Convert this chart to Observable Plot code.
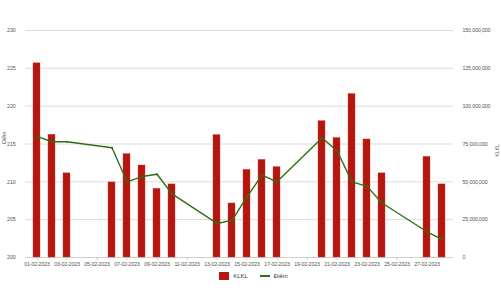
<!DOCTYPE html>
<html>
<head>
<meta charset="utf-8">
<script src="https://cdn.jsdelivr.net/npm/d3@7"></script>
<script src="https://cdn.jsdelivr.net/npm/@observablehq/plot@0.6"></script>
<style>
  html, body { margin: 0; padding: 0; background: #fff; }
  body { width: 501px; height: 300px; overflow: hidden; font-family: "Liberation Sans", sans-serif; }
  #legend { display: flex; justify-content: center; align-items: center; gap: 12px; font-size: 6px; color: #333; height: 12px; margin-left: 6px; }
  .item { display: flex; align-items: center; gap: 4px; }
  .sw { width: 10px; height: 8px; background: #b5160f; }
  .ln { width: 10px; height: 1.5px; background: #2f6f14; position: relative; }
</style>
</head>
<body>
<div id="chart"></div>
<div id="legend">
  <div class="item"><span class="sw"></span><span>KLKL</span></div>
  <div class="item"><span class="ln"></span><span>Điểm</span></div>
</div>
<script>
const allDays = d3.range(1, 29).map(d => String(d).padStart(2, "0") + "-02-2023");
const tickDays = allDays.filter((d, i) => i % 2 === 0);
const tradeDays = ["01","02","03","06","07","08","09","10","13","14","15","16","17","20","21","22","23","24","27","28"].map(d => d + "-02-2023");
const klkl = [128.3, 81.1, 55.6, 49.6, 68.3, 60.8, 45.4, 48.3, 80.9, 35.7, 57.9, 64.5, 59.7, 90.1, 78.9, 108.0, 78.0, 55.6, 66.5, 48.3].map(v => v * 1e6);
const diem = [216.0, 215.3, 215.3, 214.5, 210.0, 210.7, 211.0, 208.4, 204.5, 204.9, 208.0, 210.9, 210.0, 215.8, 214.1, 210.0, 209.4, 207.2, 203.4, 202.4];
const leftTicks = [200, 205, 210, 215, 220, 225, 230];

const yMin = 200, yMax = 230, volMax = 150e6;
const volToY = v => yMin + v / volMax * (yMax - yMin);
const yToVol = y => (y - yMin) / (yMax - yMin) * volMax;

const data = tradeDays.map((d, i) => ({date: d, vol: klkl[i], diem: diem[i], volY: volToY(klkl[i])}));

const chart = Plot.plot({
  width: 501,
  height: 270,
  marginLeft: 25,
  marginRight: 48,
  marginTop: 30,
  marginBottom: 13,
  style: {fontFamily: "'Liberation Sans', sans-serif", fontSize: "5.3px", letterSpacing: "-0.15px", color: "#555", background: "#fff"},
  x: {type: "band", domain: allDays, paddingInner: 0.53, paddingOuter: 0.53},
  y: {domain: [yMin, yMax]},
  marks: [
    Plot.gridY(leftTicks, {stroke: "#dcdcdc", strokeOpacity: 1}),
    Plot.ruleY([yMin], {stroke: "#cfcfcf"}),
    Plot.barY(data, {x: "date", y1: yMin, y2: "volY", fill: "#b5160f", stroke: "#c9443b", strokeWidth: 0.4}),
    Plot.line(data, {x: "date", y: "diem", stroke: "#2f6f14", strokeWidth: 1.4}),
    Plot.dot(data, {x: "date", y: "diem", r: 1.1, fill: "#2f6f14"}),
    Plot.axisX({ticks: tickDays, tickSize: 3, tickPadding: 2, stroke: "#cfcfcf", fill: "#555", label: null}),
    Plot.axisY({ticks: leftTicks, anchor: "left", tickSize: 0, tickPadding: 10, fill: "#555", label: null}),
    Plot.axisY({ticks: leftTicks, anchor: "right", tickSize: 0, tickPadding: 9, fill: "#555", label: null, tickFormat: d => d3.format(",")(yToVol(d))}),
    Plot.text(["Điểm"], {frameAnchor: "left", dx: -21.5, rotate: -90, fill: "#666", fontSize: 5.5}),
    Plot.text(["KLKL"], {frameAnchor: "right", dx: 44, rotate: -90, fill: "#666", fontSize: 5.5})
  ]
});
document.getElementById("chart").appendChild(chart);
</script>
</body>
</html>
